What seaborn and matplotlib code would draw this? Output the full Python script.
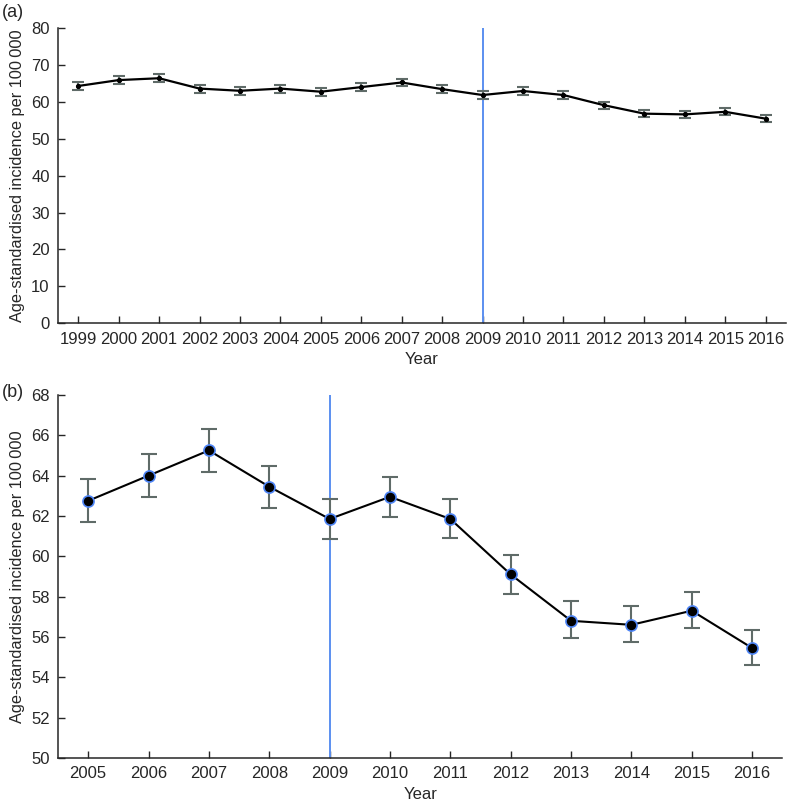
import matplotlib
matplotlib.use('Agg')
import matplotlib.pyplot as plt
import seaborn as sns
import pandas as pd

# Age-standardised incidence per 100 000, with 95% CI
years = [1999, 2000, 2001, 2002, 2003, 2004, 2005, 2006, 2007, 2008,
         2009, 2010, 2011, 2012, 2013, 2014, 2015, 2016]
rate = [64.3, 65.9, 66.4, 63.6, 63.0, 63.6, 62.75, 64.0, 65.25, 63.45,
        61.85, 62.95, 61.85, 59.1, 56.8, 56.6, 57.3, 55.45]
ci_low = [63.2, 64.8, 65.3, 62.5, 61.9, 62.5, 61.7, 62.95, 64.2, 62.4,
          60.85, 61.95, 60.9, 58.15, 55.95, 55.75, 56.45, 54.6]
ci_high = [65.4, 67.0, 67.5, 64.7, 64.1, 64.7, 63.85, 65.05, 66.3, 64.5,
           62.85, 63.95, 62.85, 60.05, 57.8, 57.55, 58.25, 56.35]
break_year = 2009
zoom_start = 2005

df = pd.DataFrame({'year': years, 'rate': rate, 'lo': ci_low, 'hi': ci_high})
df_b = df[df['year'] >= zoom_start]

sns.set_style('ticks')
plt.rcParams['font.family'] = ['Liberation Sans', 'DejaVu Sans']

fig = plt.figure(figsize=(7.89, 8.02), dpi=100)
ax_a = fig.add_axes([0.0735, 0.597, 0.9225, 0.368])
ax_b = fig.add_axes([0.0735, 0.055, 0.918, 0.4525])

ylabel = 'Age-standardised incidence per 100\u2009000'
err_col = '#5f6b68'
blue = '#5b8ff0'


def draw_panel(ax, d, ylim, yticks, big_markers):
    ax.axvline(break_year, color=blue, lw=1.4, zorder=1)
    ax.errorbar(d['year'], d['rate'], yerr=[d['rate'] - d['lo'], d['hi'] - d['rate']],
                fmt='none', ecolor=err_col, elinewidth=1.5,
                capsize=6 if big_markers else 4, capthick=1.5, zorder=2)
    if big_markers:
        sns.lineplot(data=d, x='year', y='rate', ax=ax, color='black', lw=1.5,
                     marker='o', markersize=8, markerfacecolor='black',
                     markeredgecolor='#4f86f7', markeredgewidth=1.2, zorder=3)
    else:
        sns.lineplot(data=d, x='year', y='rate', ax=ax, color='black', lw=1.6,
                     marker='o', markersize=3, markerfacecolor='black',
                     markeredgecolor='black', zorder=3)
    ax.set_xticks(d['year'])
    ax.set_xticklabels([str(y) for y in d['year']])
    ax.set_xlim(d['year'].iloc[0] - 0.5, d['year'].iloc[-1] + 0.5)
    ax.set_ylim(*ylim)
    ax.set_yticks(yticks)
    ax.tick_params(direction='in', length=5, width=1, labelsize=12, pad=6)
    ax.set_xlabel('Year', fontsize=12, labelpad=4)
    ax.set_ylabel(ylabel, fontsize=11.8, labelpad=4)
    sns.despine(ax=ax)
    for s in ['left', 'bottom']:
        ax.spines[s].set_linewidth(1.1)


draw_panel(ax_a, df, (0, 80), range(0, 81, 10), False)
draw_panel(ax_b, df_b, (50, 68), range(50, 69, 2), True)

fig.text(0.002, 0.984, '(a)', fontsize=13, va='center')
fig.text(0.002, 0.511, '(b)', fontsize=13, va='center')

fig.savefig('out.png', dpi=100)
